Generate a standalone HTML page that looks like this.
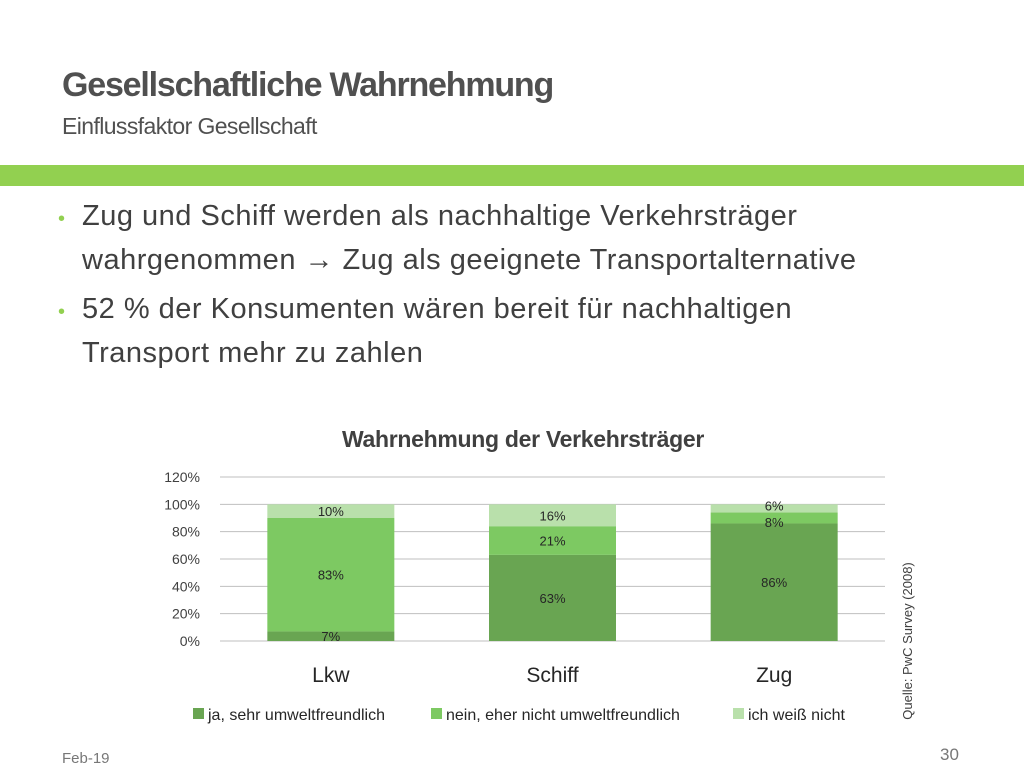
<!DOCTYPE html>
<html><head><meta charset="utf-8"><style>
body{margin:0;width:1024px;height:768px;background:#fff;overflow:hidden;font-family:"Liberation Sans",sans-serif;position:relative}
.abs{position:absolute;white-space:nowrap}
</style></head><body>
<div class="abs" style="left:62px;top:66px;font-size:34px;font-weight:bold;color:#505050;letter-spacing:-1.2px">Gesellschaftliche Wahrnehmung</div>
<div class="abs" style="left:62px;top:113px;font-size:23px;color:#505050;letter-spacing:-0.6px">Einflussfaktor Gesellschaft</div>
<div class="abs" style="left:0;top:165px;width:1024px;height:21px;background:#92d050"></div>
<div class="abs" style="left:58px;top:196px;font-size:29px;color:#404040;line-height:41px;letter-spacing:0.5px">
<div><span style="color:#92d050;font-size:20px;display:inline-block;width:24px">•</span>Zug und Schiff werden als nachhaltige Verkehrsträger</div>
<div style="padding-left:24px">wahrgenommen <b>→</b> Zug als geeignete Transportalternative</div>
<div style="margin-top:8px"><span style="color:#92d050;font-size:20px;display:inline-block;width:24px">•</span>52 % der Konsumenten wären bereit für nachhaltigen</div>
<div style="padding-left:24px">Transport mehr zu zahlen</div>
</div>
<svg class="abs" style="left:0;top:0" width="1024" height="768" id="chart"></svg>
<div class="abs" style="left:62px;top:750px;font-size:15px;color:#777">Feb-19</div>
<div class="abs" style="left:940px;top:745px;font-size:17px;color:#777">30</div>
<script>
const categories=["Lkw","Schiff","Zug"];
const seriesNames=["ja, sehr umweltfreundlich","nein, eher nicht umweltfreundlich","ich weiß nicht"];
const ja=[7,63,86];
const nein=[83,21,8];
const weiss=[10,16,6];
const ticks=[0,20,40,60,80,100,120];
const colors=["#69a552","#7dc962","#b9e0ab"];
const svg=document.getElementById('chart');const NS="http://www.w3.org/2000/svg";
const x0=220,x1=885,yBase=641,yTop=477;
const y=v=>yBase-(v/120)*(yBase-yTop);
const band=(x1-x0)/categories.length;
const cx=i=>x0+band*(i+0.5);
function mk(t,a,txt){const e=document.createElementNS(NS,t);for(const k in a)e.setAttribute(k,a[k]);if(txt!==undefined)e.textContent=txt;svg.appendChild(e);return e;}
let t=mk('text',{x:523,y:447,'text-anchor':'middle','font-size':23,'font-weight':'bold',fill:'#404040','letter-spacing':'-0.3'},'Wahrnehmung der Verkehrsträger');


ticks.forEach(v=>{
 const l=mk('line',{x1:x0,x2:x1,y1:y(v),y2:y(v),stroke:'#bfbfbf','stroke-width':1});
 
 
 const tx=mk('text',{x:200,y:y(v)+5,'text-anchor':'end','font-size':14,fill:'#404040'},v+'%');
 
 
});
const series=[ja,nein,weiss];
categories.forEach((c,i)=>{
 let acc=0;const bw=127;
 series.forEach((s,k)=>{
  const v=s[i];
  const r=mk('rect',{x:cx(i)-bw/2,y:y(acc+v),width:bw,height:y(acc)-y(acc+v),fill:colors[k]});
  
  
  let ly=(y(acc)+y(acc+v))/2+5;
  if(v<10&&k===2)ly-=3;
  if(v<10&&k===1)ly+=4;
  const lbl=mk('text',{x:cx(i),y:ly,'text-anchor':'middle','font-size':13,fill:'#262626'},v+'%');
  
  
  acc+=v;
 });
 const cl=mk('text',{x:cx(i),y:682,'text-anchor':'middle','font-size':21,fill:'#262626'},c);
 
 
});
const lx=[193,431,733];
seriesNames.forEach((n,k)=>{
 const r=mk('rect',{x:lx[k],y:708,width:11,height:11,fill:colors[k]});
 
 
 const tx=mk('text',{x:lx[k]+15,y:720,'font-size':16,fill:'#262626'},n);
 
 
});
const q=mk('text',{x:0,y:0,transform:'translate(912,641) rotate(-90)','text-anchor':'middle','font-size':13,fill:'#404040'},'Quelle: PwC Survey (2008)');


</script>
</body></html>
